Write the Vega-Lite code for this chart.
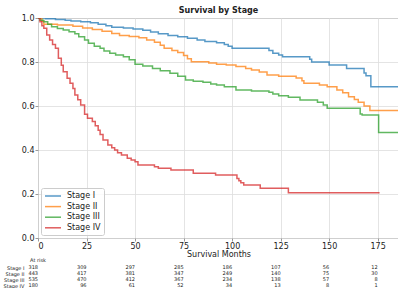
{
 "$schema": "https://vega.github.io/schema/vega-lite/v6.json",
 "padding": {"left": 3, "top": 6, "right": 0, "bottom": 0},
 "background": "white",
 "spacing": -1,
 "resolve": {"scale": {"color": "independent"}, "legend": {"color": "independent"}},
 "config": {"font": "DejaVu Sans", "view": {"stroke": null}},
 "vconcat": [
  {
   "width": 361, "height": 220,
   "title": {"text": "Survival by Stage", "fontSize": 8, "fontWeight": "bold", "color": "#222", "offset": -1, "anchor": "middle"},
   "view": {"stroke": "#999", "strokeWidth": 1},
   "data": {"values": [
    {"stage":"Stage I","t":0,"s":1.0},{"stage":"Stage I","t":4,"s":0.997},{"stage":"Stage I","t":9,"s":0.993},{"stage":"Stage I","t":14,"s":0.99},{"stage":"Stage I","t":17,"s":0.986},{"stage":"Stage I","t":22,"s":0.983},{"stage":"Stage I","t":27,"s":0.978},{"stage":"Stage I","t":31,"s":0.972},{"stage":"Stage I","t":35,"s":0.965},{"stage":"Stage I","t":38,"s":0.958},{"stage":"Stage I","t":44,"s":0.954},{"stage":"Stage I","t":49,"s":0.95},{"stage":"Stage I","t":54,"s":0.944},{"stage":"Stage I","t":58,"s":0.936},{"stage":"Stage I","t":62,"s":0.928},{"stage":"Stage I","t":67,"s":0.921},{"stage":"Stage I","t":72,"s":0.915},{"stage":"Stage I","t":77,"s":0.908},{"stage":"Stage I","t":82,"s":0.9},{"stage":"Stage I","t":86,"s":0.893},{"stage":"Stage I","t":92,"s":0.888},{"stage":"Stage I","t":96,"s":0.88},{"stage":"Stage I","t":98,"s":0.872},{"stage":"Stage I","t":100,"s":0.862},{"stage":"Stage I","t":119,"s":0.852},{"stage":"Stage I","t":121,"s":0.84},{"stage":"Stage I","t":124,"s":0.832},{"stage":"Stage I","t":126,"s":0.824},{"stage":"Stage I","t":140,"s":0.812},{"stage":"Stage I","t":141,"s":0.8},{"stage":"Stage I","t":150,"s":0.786},{"stage":"Stage I","t":159,"s":0.771},{"stage":"Stage I","t":168,"s":0.75},{"stage":"Stage I","t":169,"s":0.738},{"stage":"Stage I","t":171.5,"s":0.688},{"stage":"Stage I","t":186,"s":0.688},
    {"stage":"Stage II","t":0,"s":1.0},{"stage":"Stage II","t":2,"s":0.985},{"stage":"Stage II","t":3,"s":0.972},{"stage":"Stage II","t":10,"s":0.968},{"stage":"Stage II","t":18,"s":0.962},{"stage":"Stage II","t":23,"s":0.955},{"stage":"Stage II","t":28,"s":0.948},{"stage":"Stage II","t":33,"s":0.94},{"stage":"Stage II","t":38,"s":0.93},{"stage":"Stage II","t":42,"s":0.92},{"stage":"Stage II","t":47,"s":0.916},{"stage":"Stage II","t":52,"s":0.91},{"stage":"Stage II","t":56,"s":0.9},{"stage":"Stage II","t":60,"s":0.89},{"stage":"Stage II","t":63,"s":0.876},{"stage":"Stage II","t":65,"s":0.862},{"stage":"Stage II","t":69,"s":0.852},{"stage":"Stage II","t":72,"s":0.843},{"stage":"Stage II","t":75,"s":0.83},{"stage":"Stage II","t":77,"s":0.815},{"stage":"Stage II","t":79,"s":0.801},{"stage":"Stage II","t":88,"s":0.796},{"stage":"Stage II","t":92,"s":0.79},{"stage":"Stage II","t":97,"s":0.786},{"stage":"Stage II","t":102,"s":0.779},{"stage":"Stage II","t":107,"s":0.77},{"stage":"Stage II","t":110,"s":0.764},{"stage":"Stage II","t":114,"s":0.755},{"stage":"Stage II","t":118,"s":0.741},{"stage":"Stage II","t":124,"s":0.735},{"stage":"Stage II","t":133,"s":0.727},{"stage":"Stage II","t":136,"s":0.715},{"stage":"Stage II","t":137,"s":0.703},{"stage":"Stage II","t":145,"s":0.695},{"stage":"Stage II","t":149,"s":0.688},{"stage":"Stage II","t":154,"s":0.673},{"stage":"Stage II","t":157,"s":0.66},{"stage":"Stage II","t":160,"s":0.642},{"stage":"Stage II","t":163,"s":0.63},{"stage":"Stage II","t":165,"s":0.617},{"stage":"Stage II","t":168,"s":0.6},{"stage":"Stage II","t":171,"s":0.58},{"stage":"Stage II","t":186,"s":0.58},
    {"stage":"Stage III","t":0,"s":1.0},{"stage":"Stage III","t":1,"s":0.99},{"stage":"Stage III","t":3,"s":0.983},{"stage":"Stage III","t":5,"s":0.972},{"stage":"Stage III","t":7,"s":0.96},{"stage":"Stage III","t":10,"s":0.952},{"stage":"Stage III","t":13,"s":0.945},{"stage":"Stage III","t":16,"s":0.938},{"stage":"Stage III","t":19,"s":0.928},{"stage":"Stage III","t":21,"s":0.915},{"stage":"Stage III","t":24,"s":0.9},{"stage":"Stage III","t":26,"s":0.885},{"stage":"Stage III","t":29,"s":0.872},{"stage":"Stage III","t":32,"s":0.862},{"stage":"Stage III","t":34,"s":0.85},{"stage":"Stage III","t":37,"s":0.84},{"stage":"Stage III","t":40,"s":0.832},{"stage":"Stage III","t":44,"s":0.824},{"stage":"Stage III","t":47,"s":0.81},{"stage":"Stage III","t":50,"s":0.79},{"stage":"Stage III","t":54,"s":0.782},{"stage":"Stage III","t":59,"s":0.771},{"stage":"Stage III","t":63,"s":0.76},{"stage":"Stage III","t":68,"s":0.749},{"stage":"Stage III","t":72,"s":0.735},{"stage":"Stage III","t":76,"s":0.718},{"stage":"Stage III","t":80,"s":0.712},{"stage":"Stage III","t":85,"s":0.708},{"stage":"Stage III","t":89,"s":0.7},{"stage":"Stage III","t":92,"s":0.695},{"stage":"Stage III","t":96,"s":0.688},{"stage":"Stage III","t":102,"s":0.673},{"stage":"Stage III","t":110,"s":0.668},{"stage":"Stage III","t":119,"s":0.662},{"stage":"Stage III","t":121,"s":0.655},{"stage":"Stage III","t":124,"s":0.647},{"stage":"Stage III","t":129,"s":0.64},{"stage":"Stage III","t":135,"s":0.627},{"stage":"Stage III","t":144,"s":0.617},{"stage":"Stage III","t":147,"s":0.605},{"stage":"Stage III","t":149,"s":0.59},{"stage":"Stage III","t":166,"s":0.564},{"stage":"Stage III","t":167,"s":0.559},{"stage":"Stage III","t":175.5,"s":0.48},{"stage":"Stage III","t":186,"s":0.48},
    {"stage":"Stage IV","t":0,"s":1.0},{"stage":"Stage IV","t":1,"s":0.983},{"stage":"Stage IV","t":2,"s":0.965},{"stage":"Stage IV","t":3,"s":0.953},{"stage":"Stage IV","t":4.5,"s":0.923},{"stage":"Stage IV","t":6,"s":0.9},{"stage":"Stage IV","t":7.5,"s":0.88},{"stage":"Stage IV","t":9,"s":0.862},{"stage":"Stage IV","t":10.5,"s":0.817},{"stage":"Stage IV","t":12,"s":0.785},{"stage":"Stage IV","t":13,"s":0.756},{"stage":"Stage IV","t":15,"s":0.726},{"stage":"Stage IV","t":16.5,"s":0.703},{"stage":"Stage IV","t":18,"s":0.68},{"stage":"Stage IV","t":19,"s":0.65},{"stage":"Stage IV","t":20.5,"s":0.628},{"stage":"Stage IV","t":22,"s":0.605},{"stage":"Stage IV","t":24,"s":0.562},{"stage":"Stage IV","t":25.5,"s":0.544},{"stage":"Stage IV","t":28,"s":0.529},{"stage":"Stage IV","t":29.5,"s":0.51},{"stage":"Stage IV","t":31,"s":0.49},{"stage":"Stage IV","t":32,"s":0.47},{"stage":"Stage IV","t":33.5,"s":0.445},{"stage":"Stage IV","t":36,"s":0.423},{"stage":"Stage IV","t":38,"s":0.41},{"stage":"Stage IV","t":39.5,"s":0.4},{"stage":"Stage IV","t":41,"s":0.388},{"stage":"Stage IV","t":43,"s":0.377},{"stage":"Stage IV","t":46,"s":0.362},{"stage":"Stage IV","t":48,"s":0.355},{"stage":"Stage IV","t":50,"s":0.347},{"stage":"Stage IV","t":51.5,"s":0.332},{"stage":"Stage IV","t":60,"s":0.324},{"stage":"Stage IV","t":62,"s":0.317},{"stage":"Stage IV","t":68.5,"s":0.309},{"stage":"Stage IV","t":80,"s":0.294},{"stage":"Stage IV","t":91.5,"s":0.286},{"stage":"Stage IV","t":102.5,"s":0.271},{"stage":"Stage IV","t":103.5,"s":0.26},{"stage":"Stage IV","t":104.5,"s":0.251},{"stage":"Stage IV","t":106,"s":0.241},{"stage":"Stage IV","t":114.5,"s":0.226},{"stage":"Stage IV","t":129,"s":0.206},{"stage":"Stage IV","t":176,"s":0.206}
   ]},
   "mark": {"type": "line", "interpolate": "step-after", "strokeWidth": 1.5, "opacity": 0.75, "clip": true},
   "encoding": {
    "x": {"field": "t", "type": "quantitative", "scale": {"domain": [0, 186], "nice": false},
      "axis": {"values": [0,25,50,75,100,125,150,175], "title": "Survival Months", "titleFontSize": 8, "titleFontWeight": "normal", "titleColor": "#222", "titleBaseline": "top", "titleY": 12, "labelFontSize": 8, "labelColor": "#222", "labelPadding": 1, "tickSize": 3, "tickColor": "#999", "domain": false, "gridColor": "#ddd", "gridWidth": 0.8}},
    "y": {"field": "s", "type": "quantitative", "scale": {"domain": [0, 1], "nice": false},
      "axis": {"values": [0,0.2,0.4,0.6,0.8,1.0], "format": ".1f", "title": null, "labelFontSize": 8, "labelColor": "#222", "labelPadding": 1, "tickSize": 3, "tickColor": "#999", "domain": false, "gridColor": "#ddd", "gridWidth": 0.8}},
    "color": {"field": "stage", "type": "nominal",
      "scale": {"domain": ["Stage I","Stage II","Stage III","Stage IV"], "range": ["#1f77b4","#ff7f0e","#2ca02c","#d62728"]},
      "legend": {"title": null, "orient": "bottom-left", "offset": 3, "symbolType": "M-1,0H3", "symbolSize": 64, "symbolStrokeWidth": 1.5, "symbolOpacity": 0.75, "labelFontSize": 8, "labelColor": "#222", "labelOffset": 13, "strokeColor": "#ccc", "fillColor": "rgba(255,255,255,0.8)", "cornerRadius": 2, "padding": 3, "rowPadding": 1.6}}
   }
  },
  {
   "width": 361, "height": 24,
   "title": {"text": "At risk", "anchor": "start", "frame": "group", "align": "center", "fontSize": 5, "fontWeight": "normal", "color": "#222", "offset": 1},
   "view": {"stroke": null},
   "data": {"values": [
    {"stage":"Stage I","t":0,"n":318},{"stage":"Stage I","t":25,"n":309},{"stage":"Stage I","t":50,"n":297},{"stage":"Stage I","t":75,"n":285},{"stage":"Stage I","t":100,"n":186},{"stage":"Stage I","t":125,"n":107},{"stage":"Stage I","t":150,"n":56},{"stage":"Stage I","t":175,"n":12},
    {"stage":"Stage II","t":0,"n":443},{"stage":"Stage II","t":25,"n":417},{"stage":"Stage II","t":50,"n":381},{"stage":"Stage II","t":75,"n":347},{"stage":"Stage II","t":100,"n":249},{"stage":"Stage II","t":125,"n":140},{"stage":"Stage II","t":150,"n":75},{"stage":"Stage II","t":175,"n":30},
    {"stage":"Stage III","t":0,"n":535},{"stage":"Stage III","t":25,"n":470},{"stage":"Stage III","t":50,"n":412},{"stage":"Stage III","t":75,"n":367},{"stage":"Stage III","t":100,"n":234},{"stage":"Stage III","t":125,"n":138},{"stage":"Stage III","t":150,"n":57},{"stage":"Stage III","t":175,"n":8},
    {"stage":"Stage IV","t":0,"n":180},{"stage":"Stage IV","t":25,"n":96},{"stage":"Stage IV","t":50,"n":61},{"stage":"Stage IV","t":75,"n":52},{"stage":"Stage IV","t":100,"n":34},{"stage":"Stage IV","t":125,"n":13},{"stage":"Stage IV","t":150,"n":8},{"stage":"Stage IV","t":175,"n":1}
   ]},
   "mark": {"type": "text", "align": "right", "fontSize": 5, "color": "#222"},
   "encoding": {
    "x": {"field": "t", "type": "quantitative", "scale": {"domain": [0, 186], "nice": false}, "axis": null},
    "y": {"field": "stage", "type": "nominal", "sort": ["Stage I","Stage II","Stage III","Stage IV"], "scale": {"paddingInner": 0, "paddingOuter": 0},
      "axis": {"title": null, "domain": false, "ticks": false, "grid": false, "labelFontSize": 5, "labelColor": "#222", "labelPadding": 14}},
    "text": {"field": "n", "type": "quantitative"}
   }
  }
 ]
}
